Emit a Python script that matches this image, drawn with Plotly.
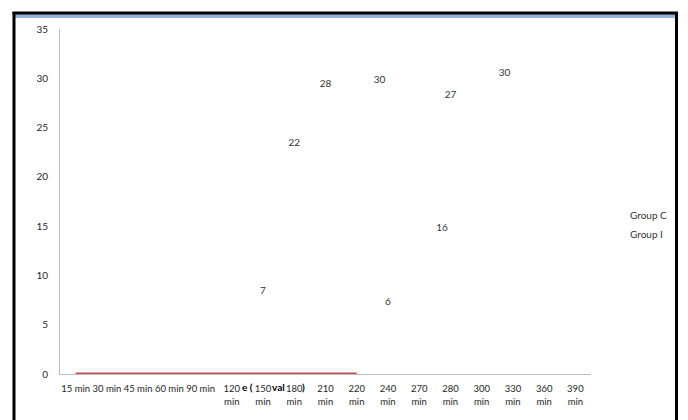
import plotly.graph_objects as go

categories = ["15 min", "30 min", "45 min", "60 min", "90 min", "120 min", "150 min",
              "180 min", "210 min", "220 min", "240 min", "270 min", "280 min",
              "300 min", "330 min", "360 min", "390 min"]
tick_labels = ["15 min", "30 min", "45 min", "60 min", "90 min", "120<br>min", "150<br>min",
               "180<br>min", "210<br>min", "220<br>min", "240<br>min", "270<br>min", "280<br>min",
               "300<br>min", "330<br>min", "360<br>min", "390<br>min"]

# floating data labels (label text, category, label height as seen)
labels_a_cat = ["150 min", "180 min", "210 min", "240 min", "280 min"]
labels_a_text = ["7", "22", "28", "6", "27"]
labels_a_y = [8.4, 23.4, 29.4, 7.3, 28.3]

labels_b_cat = ["240 min", "280 min", "330 min"]
labels_b_text = ["30", "16", "30"]
labels_b_y = [29.8, 14.8, 30.5]
labels_b_shift = -0.27

# zero line series
zero_cats = categories[:10]
zero_vals = [0] * 10

idx = {c: i for i, c in enumerate(categories)}
FONT = "Lato, 'Open Sans', sans-serif"
TXT = "#333333"

OFF = 8  # page body margin
W, H = 688, 420
L, R, T, B = 60 - OFF, 591 - OFF, 29 - OFF, 374 - OFF
pw, ph = R - L, B - T


def px(x):
    return (x - OFF - L) / pw


def py(y):
    return (B - (y - OFF)) / ph


fig = go.Figure()
fig.add_trace(go.Scatter(
    x=[idx[c] for c in zero_cats], y=zero_vals, mode="lines",
    line=dict(color="#C0504D", width=3), cliponaxis=False, showlegend=False,
    hoverinfo="skip"))
fig.add_trace(go.Scatter(
    x=[idx[c] for c in labels_a_cat], y=labels_a_y, mode="text", text=labels_a_text,
    textfont=dict(family=FONT, size=10, color=TXT), showlegend=False))
fig.add_trace(go.Scatter(
    x=[idx[c] + labels_b_shift for c in labels_b_cat], y=labels_b_y, mode="text",
    text=labels_b_text, textfont=dict(family=FONT, size=10, color=TXT), showlegend=False))

frame = dict(color="black", width=3)
shapes = [
    # blue band at top
    dict(type="rect", xref="paper", yref="paper", x0=px(15), x1=px(675), y0=py(18), y1=py(14),
         fillcolor="#95B3D7", line=dict(width=0), layer="below"),
    # black frame: top, left, right
    dict(type="line", xref="paper", yref="paper", x0=px(12.5), x1=px(678), y0=py(13), y1=py(13),
         line=frame),
    dict(type="line", xref="paper", yref="paper", x0=px(14), x1=px(14), y0=py(12), y1=py(440),
         line=frame),
    dict(type="line", xref="paper", yref="paper", x0=px(676.5), x1=px(676.5), y0=py(12),
         y1=py(440), line=frame),
]

annotations = [
    dict(text="Group C", xref="paper", yref="paper", x=px(628), y=py(215), xanchor="left",
         yanchor="middle", showarrow=False, font=dict(family=FONT, size=10, color=TXT)),
    dict(text="Group I", xref="paper", yref="paper", x=px(628), y=py(234), xanchor="left",
         yanchor="middle", showarrow=False, font=dict(family=FONT, size=10, color=TXT)),
    dict(text="<b>e (</b>", xref="paper", yref="paper", x=px(247), y=py(387),
         yanchor="middle", showarrow=False, font=dict(family=FONT, size=10, color="black")),
    dict(text="<b>val</b>", xref="paper", yref="paper", x=px(278), y=py(387),
         yanchor="middle", showarrow=False, font=dict(family=FONT, size=10, color="black")),
    dict(text="<b>)</b>", xref="paper", yref="paper", x=px(303.5), y=py(387),
         yanchor="middle", showarrow=False, font=dict(family=FONT, size=10, color="black")),
]

fig.update_layout(
    width=W, height=H,
    margin=dict(l=L, r=W - R, t=T, b=H - B, pad=0),
    paper_bgcolor="white", plot_bgcolor="white",
    showlegend=False,
    shapes=shapes, annotations=annotations,
    font=dict(family=FONT, size=10, color=TXT),
    xaxis=dict(range=[-0.5, 16.5], tickvals=list(range(len(categories))), ticktext=tick_labels,
               tickangle=0, automargin=False, layer="below traces",
               showgrid=False, zeroline=False, showline=True, linecolor="#BFBFBF", linewidth=1,
               ticks="outside", ticklen=6, tickcolor="rgba(0,0,0,0)",
               tickfont=dict(family=FONT, size=9.5, color="#262626"), fixedrange=True),
    yaxis=dict(range=[0, 35], tickvals=[0, 5, 10, 15, 20, 25, 30, 35], showgrid=False,
               automargin=False, layer="below traces",
               zeroline=False, showline=True, linecolor="#BFBFBF", linewidth=1, ticks="outside",
               ticklen=9, tickcolor="rgba(0,0,0,0)",
               tickfont=dict(family=FONT, size=10, color="#262626"), fixedrange=True),
)

fig.write_html("out.html")
